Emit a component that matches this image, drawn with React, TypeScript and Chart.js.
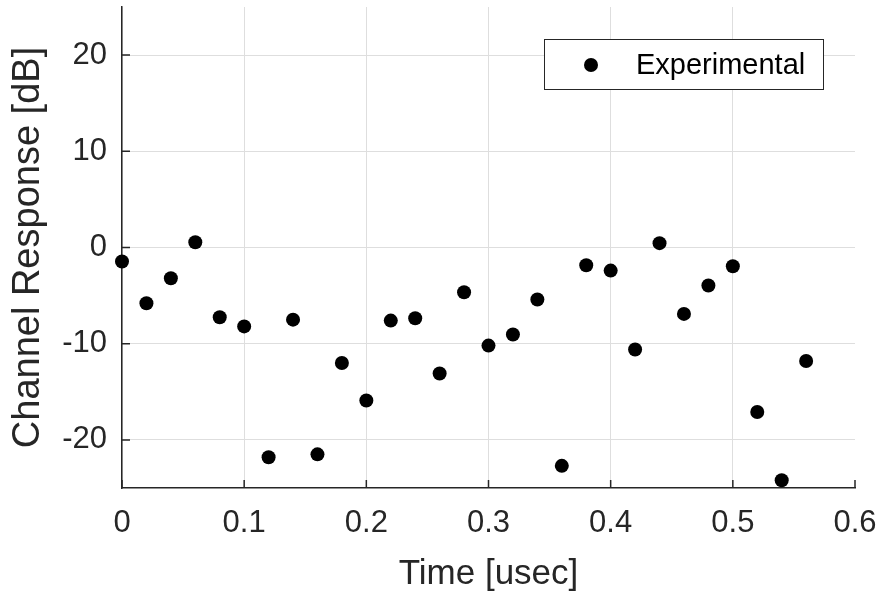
import React, { useEffect, useRef } from "react";
import { Chart, registerables } from "chart.js";

Chart.register(...registerables);

const timeUsec = [
  0, 0.02, 0.04, 0.06, 0.08, 0.1, 0.12, 0.14, 0.16, 0.18, 0.2, 0.22, 0.24, 0.26, 0.28,
  0.3, 0.32, 0.34, 0.36, 0.38, 0.4, 0.42, 0.44, 0.46, 0.48, 0.5, 0.52, 0.54, 0.56,
];
const responseDb = [
  -1.45, -5.8, -3.2, 0.55, -7.25, -8.2, -21.8, -7.5, -21.5, -12.0, -15.9, -7.6, -7.35, -13.1, -4.65,
  -10.2, -9.05, -5.4, -22.7, -1.85, -2.4, -10.6, 0.45, -6.9, -3.95, -1.95, -17.1, -24.2, -11.8,
];
const xTicks = [0, 0.1, 0.2, 0.3, 0.4, 0.5, 0.6];
const xTickLabels = ["0", "0.1", "0.2", "0.3", "0.4", "0.5", "0.6"];
const yTicks = [-20, -10, 0, 10, 20];
const yTickLabels = ["-20", "-10", "0", "10", "20"];
const seriesLabel = "Experimental";
const xTitle = "Time [usec]";
const yTitle = "Channel Response [dB]";

const AXIS = "#262626";
const GRID = "#dedede";
const FONT = "'Liberation Sans', Arial, Helvetica, sans-serif";

const innerTicks = {
  id: "innerTicks",
  afterDatasetsDraw(chart: any) {
    const { ctx, chartArea } = chart;
    const xs = chart.scales.x;
    const ys = chart.scales.y;
    ctx.save();
    ctx.strokeStyle = AXIS;
    ctx.lineWidth = 1.5;
    ctx.beginPath();
    xTicks.forEach((v) => {
      const p = xs.getPixelForValue(v);
      ctx.moveTo(p, chartArea.bottom);
      ctx.lineTo(p, chartArea.bottom - 8);
    });
    yTicks.forEach((v) => {
      const p = ys.getPixelForValue(v);
      ctx.moveTo(chartArea.left, p);
      ctx.lineTo(chartArea.left + 8, p);
    });
    ctx.stroke();
    ctx.restore();
  },
};

const boxLegend = {
  id: "boxLegend",
  afterDraw(chart: any) {
    const { ctx, chartArea } = chart;
    const w = 279;
    const h = 50;
    const x0 = chartArea.right - 32 - w;
    const y0 = chartArea.top + 32;
    ctx.save();
    ctx.fillStyle = "#ffffff";
    ctx.fillRect(x0, y0, w, h);
    ctx.strokeStyle = AXIS;
    ctx.lineWidth = 1;
    ctx.strokeRect(x0 + 0.5, y0 + 0.5, w, h);
    ctx.fillStyle = "#000000";
    ctx.beginPath();
    ctx.arc(x0 + 47, y0 + h / 2 + 1, 7, 0, Math.PI * 2);
    ctx.fill();
    ctx.font = `29px ${FONT}`;
    ctx.textBaseline = "middle";
    ctx.textAlign = "left";
    ctx.fillText(chart.data.datasets[0].label, x0 + 92, y0 + h / 2 + 2);
    ctx.restore();
  },
};

const zeroPad = (s: any) => {
  s.paddingTop = 0;
  s.paddingBottom = 0;
  s.paddingLeft = 0;
  s.paddingRight = 0;
};

export default function App() {
  const ref = useRef<HTMLCanvasElement | null>(null);

  useEffect(() => {
    if (!ref.current) return;
    const chart = new Chart(ref.current, {
      type: "scatter",
      data: {
        datasets: [
          {
            label: seriesLabel,
            data: timeUsec.map((t, i) => ({ x: t, y: responseDb[i] })),
            backgroundColor: "#000000",
            borderWidth: 0,
            pointRadius: 7,
            pointHoverRadius: 7,
            clip: false as any,
          },
        ],
      },
      options: {
        responsive: false,
        animation: false,
        events: [],
        layout: { padding: { top: 5, right: 22, left: 0, bottom: 0 } },
        plugins: {
          legend: { display: false },
          tooltip: { enabled: false },
        },
        scales: {
          x: {
            type: "linear",
            min: 0,
            max: 0.6,
            afterBuildTicks: (s: any) => {
              s.ticks = xTicks.map((v) => ({ value: v }));
            },
            afterFit: (s: any) => {
              s.height = 110;
              zeroPad(s);
            },
            ticks: {
              padding: 17,
              color: AXIS,
              font: { family: FONT, size: 31 },
              maxRotation: 0,
              autoSkip: false,
              callback: (v: any) => {
                const i = xTicks.findIndex((t) => Math.abs(t - v) < 1e-9);
                return i >= 0 ? xTickLabels[i] : "";
              },
            },
            grid: {
              drawTicks: false,
              color: (c: any) => (c.tick && Math.abs(c.tick.value - 0.6) < 1e-9 ? "rgba(0,0,0,0)" : GRID),
              lineWidth: 1,
            },
            border: { display: true, color: AXIS, width: 1.5 },
            title: {
              display: true,
              text: xTitle,
              color: AXIS,
              font: { family: FONT, size: 35, lineHeight: 1 },
              padding: { top: 0, bottom: 6 },
            },
          },
          y: {
            type: "linear",
            min: -25,
            max: 25,
            afterBuildTicks: (s: any) => {
              s.ticks = yTicks.map((v) => ({ value: v }));
            },
            afterFit: (s: any) => {
              s.width = 122;
              zeroPad(s);
            },
            ticks: {
              padding: 15,
              color: AXIS,
              font: { family: FONT, size: 31 },
              autoSkip: false,
              callback: (v: any) => {
                const i = yTicks.findIndex((t) => Math.abs(t - v) < 1e-9);
                return i >= 0 ? yTickLabels[i] : "";
              },
            },
            grid: {
              drawTicks: false,
              color: GRID,
              lineWidth: 1,
            },
            border: { display: true, color: AXIS, width: 1.5 },
            title: {
              display: true,
              text: yTitle,
              color: AXIS,
              font: { family: FONT, size: 38, lineHeight: 1 },
              padding: { top: 9.5, bottom: 0 },
            },
          },
        },
      },
      plugins: [innerTicks, boxLegend],
    });
    return () => chart.destroy();
  }, []);

  return (
    <div style={{ position: "absolute", left: 0, top: 0, width: 877, height: 598, background: "#ffffff" }}>
      <canvas ref={ref} width={877} height={598} style={{ display: "block" }} />
    </div>
  );
}
